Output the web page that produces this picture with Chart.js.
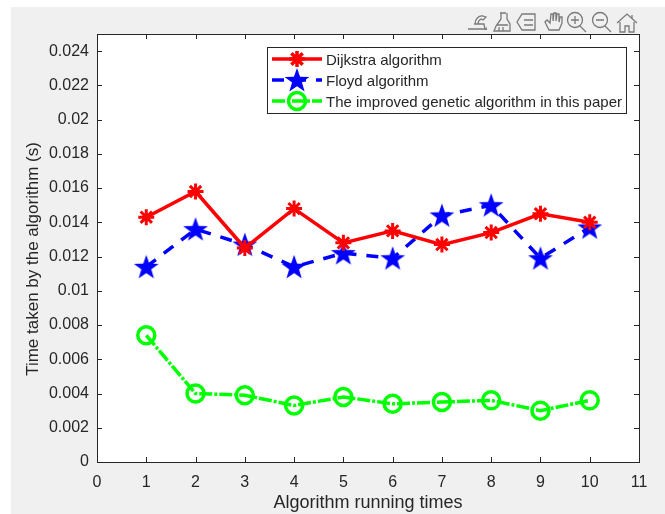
<!DOCTYPE html>
<html>
<head>
<meta charset="utf-8">
<title>Algorithm running time</title>
<script src="https://cdn.jsdelivr.net/npm/chart.js@4"></script>
<style>
  html, body { margin: 0; padding: 0; background: #fff; overflow: hidden; }
  #bg { position: absolute; left: 11px; top: 7px; width: 654px; height: 507px; background: #f0f0f0; }
  #wrap { position: absolute; left: 0; top: 0; width: 665px; height: 514px; }
  #tools { position: absolute; left: 466px; top: 10px; }
</style>
</head>
<body>
<div id="bg"></div>
<div id="wrap"><canvas id="chart" width="665" height="514"></canvas></div>
<svg id="tools" width="175" height="24" fill="none" stroke="#7a7a7a" stroke-width="1.3">
  <!-- brush -->
  <path d="M2 19h17l-1-5H8M9 14c0-5 4-9 8-8l3 1-3 3-2-1c-2 1-3 3-3 5"/>
  <path d="M18 20h3v-3z" fill="#7a7a7a" stroke="none"/>
  <!-- eraser -->
  <path d="M34 3h6M35 3v6l-5 7-2 5h16v-7l-3-5V3M31 15h11M33 21v-4M37 21v-4" />
  <!-- legend -->
  <path d="M56 4h13v16H56l-5-8zM58 10h9M58 15h9"/>
  <!-- hand -->
  <path d="M79 12l4 8h10l3-7V7l-2 0-1 5V4l-2 0-1 7V3h-2l-1 8V4l-2 0-1 9-3-3z"/>
  <!-- zoom in -->
  <circle cx="109" cy="10" r="7.5"/><path d="M114 16l6 6M105 10h8M109 6v8"/>
  <!-- zoom out -->
  <circle cx="134" cy="10" r="7.5"/><path d="M139 16l6 6M130 10h8"/>
  <!-- home -->
  <path d="M151 13l10-9 10 9M154 12v10h5v-6h4v6h5V12M166 5v3"/>
</svg>
<script>
const runs = [1, 2, 3, 4, 5, 6, 7, 8, 9, 10];
const dijkstra = [0.0143, 0.0158, 0.0125, 0.0148, 0.0128, 0.0135, 0.0127, 0.0134, 0.0145, 0.0140];
const floyd = [0.0114, 0.0136, 0.0127, 0.0114, 0.0122, 0.0119, 0.0144, 0.0150, 0.0119, 0.0137];
const improved = [0.0074, 0.0040, 0.0039, 0.0033, 0.0038, 0.0034, 0.0035, 0.0036, 0.0030, 0.0036];
const seriesNames = ["Dijkstra algorithm", "Floyd algorithm", "The improved genetic algorithm in this paper"];
const yTicks = [0, 0.002, 0.004, 0.006, 0.008, 0.01, 0.012, 0.014, 0.016, 0.018, 0.02, 0.022, 0.024];
const yTitle = "Time taken by the algorithm (s)";

const FONT = "'Liberation Sans', Arial, sans-serif";
const INK = "#262626";

// filled five point star, MATLAB "p" marker
function makeStar(size, color) {
  const c = document.createElement("canvas");
  c.width = size;
  c.height = size;
  const g = c.getContext("2d");
  const r = size / 2;
  g.fillStyle = color;
  g.beginPath();
  for (let i = 0; i < 10; i++) {
    const rad = i % 2 === 0 ? r : r * 0.4;
    const a = -Math.PI / 2 + (i * Math.PI) / 5;
    g.lineTo(r + rad * Math.cos(a), r + 1 + rad * Math.sin(a));
  }
  g.closePath();
  g.fill();
  return c;
}
const blueStar = makeStar(26, "#0000ff");

function toPoints(values) {
  return values.map(function (v, i) {
    return { x: runs[i], y: v };
  });
}

const frame = {
  id: "frame",
  beforeDatasetsDraw(chart) {
    const a = chart.chartArea;
    const ctx = chart.ctx;
    ctx.save();
    ctx.fillStyle = "#fff";
    ctx.fillRect(a.left, a.top, a.width, a.height);
    ctx.restore();
  },
  afterDatasetsDraw(chart) {
    const a = chart.chartArea;
    const ctx = chart.ctx;
    const xs = chart.scales.x;
    const ys = chart.scales.y;
    ctx.save();
    ctx.strokeStyle = INK;
    ctx.lineWidth = 1;
    ctx.strokeRect(a.left + 0.5, a.top + 0.5, a.width, a.height);
    ctx.beginPath();
    xs.ticks.forEach(function (t) {
      const p = Math.round(xs.getPixelForValue(t.value)) + 0.5;
      ctx.moveTo(p, a.bottom);
      ctx.lineTo(p, a.bottom - 5);
      ctx.moveTo(p, a.top);
      ctx.lineTo(p, a.top + 5);
    });
    ys.ticks.forEach(function (t) {
      const p = Math.round(ys.getPixelForValue(t.value)) + 0.5;
      ctx.moveTo(a.left, p);
      ctx.lineTo(a.left + 5, p);
      ctx.moveTo(a.right, p);
      ctx.lineTo(a.right - 5, p);
    });
    ctx.stroke();

    // y title sits a bit below the axis centre in the original
    ctx.fillStyle = INK;
    ctx.font = "17px " + FONT;
    ctx.textAlign = "center";
    ctx.textBaseline = "middle";
    ctx.save();
    ctx.translate(33, 259);
    ctx.rotate(-Math.PI / 2);
    ctx.fillText(yTitle, 0, 0);
    ctx.restore();

    // legend box with line samples
    const bx = 267, by = 47, bw = 359, bh = 66;
    ctx.fillStyle = "#fff";
    ctx.fillRect(bx, by, bw, bh);
    ctx.strokeStyle = INK;
    ctx.strokeRect(bx + 0.5, by + 0.5, bw, bh);
    const rows = [59, 80, 101];
    chart.data.datasets.forEach(function (ds, i) {
      const y = rows[i];
      ctx.strokeStyle = ds.borderColor;
      ctx.lineWidth = ds.borderWidth;
      ctx.setLineDash(ds.borderDash || []);
      ctx.beginPath();
      ctx.moveTo(272, y);
      ctx.lineTo(322, y);
      ctx.stroke();
      ctx.setLineDash([]);
      ctx.fillStyle = ds.backgroundColor;
      Chart.helpers.drawPoint(ctx, {
        pointStyle: ds.pointStyle,
        radius: ds.pointRadius,
        borderWidth: ds.pointBorderWidth,
        rotation: 0
      }, 297, y);
      ctx.fillStyle = INK;
      ctx.font = "15px " + FONT;
      ctx.textBaseline = "middle";
      ctx.textAlign = "left";
      ctx.fillText(seriesNames[i], 326, y + 2);
    });
    ctx.restore();
  }
};

new Chart(document.getElementById("chart"), {
  type: "line",
  data: {
    datasets: [
      {
        label: seriesNames[0],
        data: toPoints(dijkstra),
        borderColor: "#ff0000",
        backgroundColor: "#ff0000",
        borderWidth: 3.5,
        pointStyle: "star",
        pointRadius: 8,
        pointBorderWidth: 3,
        pointBorderColor: "#ff0000"
      },
      {
        label: seriesNames[1],
        data: toPoints(floyd),
        borderColor: "#0000ff",
        backgroundColor: "#0000ff",
        borderWidth: 3.5,
        borderDash: [12, 10],
        pointStyle: blueStar,
        pointRadius: 13,
        pointBorderWidth: 0
      },
      {
        label: seriesNames[2],
        data: toPoints(improved),
        borderColor: "#00ff00",
        backgroundColor: "rgba(0,0,0,0)",
        borderWidth: 3.5,
        borderDash: [13, 2, 3, 2],
        pointStyle: "circle",
        pointRadius: 8.5,
        pointBorderWidth: 3.5,
        pointBorderColor: "#00ff00"
      }
    ]
  },
  options: {
    responsive: false,
    animation: false,
    events: [],
    layout: { padding: { top: 34, right: 26, left: 0, bottom: 0 } },
    plugins: { legend: { display: false }, tooltip: { enabled: false } },
    scales: {
      x: {
        type: "linear",
        min: 0,
        max: 11,
        grid: { display: false },
        border: { display: false },
        afterFit(scale) { scale.height = 52; },
        ticks: {
          stepSize: 1,
          padding: 3,
          maxRotation: 0,
          autoSkip: false,
          color: INK,
          font: { family: FONT, size: 16 }
        },
        title: {
          display: true,
          text: "Algorithm running times",
          color: INK,
          padding: { top: 0, bottom: 0 },
          font: { family: FONT, size: 18 }
        }
      },
      y: {
        min: 0,
        max: 0.025,
        grid: { display: false },
        border: { display: false },
        afterFit(scale) { scale.width = 97; },
        afterBuildTicks(scale) {
          scale.ticks = yTicks.map(function (v) { return { value: v }; });
        },
        ticks: {
          padding: 0,
          autoSkip: false,
          color: INK,
          font: { family: FONT, size: 16 },
          callback(v) { return String(Number(v.toFixed(3))); }
        }
      }
    }
  },
  plugins: [frame]
});
</script>
</body>
</html>
